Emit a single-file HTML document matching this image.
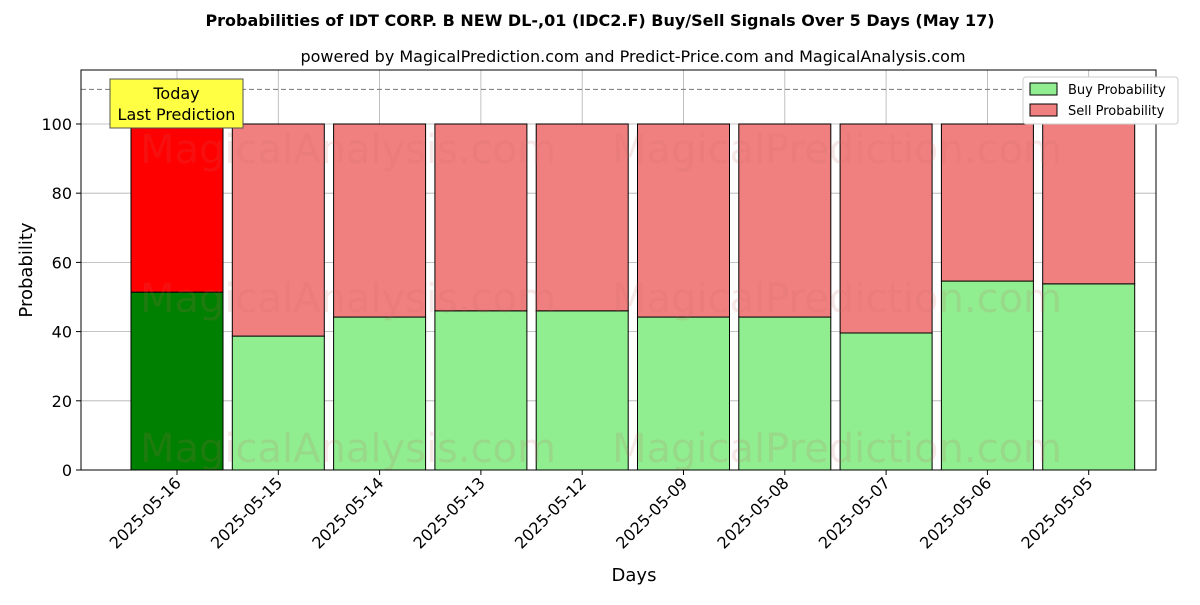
<!DOCTYPE html>
<html><head><meta charset="utf-8"><style>
body{margin:0;background:#fff;font-family:"Liberation Sans","DejaVu Sans",sans-serif;}
svg text{font-family:"DejaVu Sans","Liberation Sans",sans-serif;}
</style></head><body>
<svg id="chart" width="1200" height="600" xmlns="http://www.w3.org/2000/svg">
<rect width="1200" height="600" fill="#fff"/>
<text x="600" y="26" text-anchor="middle" font-size="16" font-weight="bold">Probabilities of IDT CORP. B NEW  DL-,01 (IDC2.F) Buy/Sell Signals Over 5 Days (May 17)</text>
<text x="633" y="62" text-anchor="middle" font-size="16">powered by MagicalPrediction.com and Predict-Price.com and MagicalAnalysis.com</text>
<g id="grid"></g>
<g id="bars"></g>
<g id="wm" font-size="40" fill="rgba(200,100,100,0.15)">
<text x="348" y="163" text-anchor="middle">MagicalAnalysis.com</text>
<text x="837" y="163" text-anchor="middle">MagicalPrediction.com</text>
<text x="348" y="312" text-anchor="middle">MagicalAnalysis.com</text>
<text x="837" y="312" text-anchor="middle">MagicalPrediction.com</text>
<text x="348" y="462" text-anchor="middle">MagicalAnalysis.com</text>
<text x="837" y="462" text-anchor="middle">MagicalPrediction.com</text>
</g>
<line x1="81" x2="1156" y1="89.4" y2="89.4" stroke="#777" stroke-dasharray="5,3"/>
<rect x="81" y="70" width="1075" height="400" fill="none" stroke="#000"/>
<g id="axes"></g>
<g>
<rect x="110" y="79" width="133" height="49" fill="#ffff44" stroke="#555"/>
<text x="176.5" y="99" text-anchor="middle" font-size="16">Today</text>
<text x="176.5" y="120" text-anchor="middle" font-size="16">Last Prediction</text>
</g>
<g>
<rect x="1023" y="77" width="155" height="47" fill="#fff" stroke="#ccc" rx="3"/>
<rect x="1030" y="83" width="27" height="12" fill="#90ee90" stroke="#000"/>
<text x="1068" y="94" font-size="13">Buy Probability</text>
<rect x="1030" y="104" width="27" height="12" fill="#f08080" stroke="#000"/>
<text x="1068" y="115" font-size="13">Sell Probability</text>
</g>
<text x="634" y="581" text-anchor="middle" font-size="18">Days</text>
<text transform="translate(32,270) rotate(-90)" text-anchor="middle" font-size="18">Probability</text>
</svg>
<script>
const categories=["2025-05-16","2025-05-15","2025-05-14","2025-05-13","2025-05-12","2025-05-09","2025-05-08","2025-05-07","2025-05-06","2025-05-05"];
const buyValues=[51.4,38.7,44.2,46.0,46.0,44.2,44.2,39.6,54.6,53.8];
const yTicks=[0,20,40,60,80,100];
const NS="http://www.w3.org/2000/svg";
const y0=470,yTop=70,yMax=115.6;
const yS=v=>y0-v*(y0-yTop)/yMax;
const xC=i=>177+i*101.3;
const bw=92;
const grid=document.getElementById('grid'),bars=document.getElementById('bars'),axes=document.getElementById('axes');
function mk(tag,attrs,parent){const e=document.createElementNS(NS,tag);for(const k in attrs)e.setAttribute(k,attrs[k]);parent.appendChild(e);return e;}
yTicks.forEach(t=>{
 const l=mk('line',{x1:81,x2:1156,y1:yS(t),y2:yS(t),stroke:'#b0b0b0','stroke-width':0.8},grid);
 
 
 mk('line',{x1:76,x2:81,y1:yS(t),y2:yS(t),stroke:'#000'},axes);
 const tx=mk('text',{x:72,y:yS(t)+6,'text-anchor':'end','font-size':16},axes);
 tx.textContent=t;
 
 
});
categories.forEach((c,i)=>{
 const x=xC(i);
 const g=mk('line',{x1:x,x2:x,y1:70,y2:470,stroke:'#b0b0b0','stroke-width':0.8},grid);
 
 
 const b=buyValues[i];
 const today=i===0;
 const rb=mk('rect',{x:x-bw/2,y:yS(b),width:bw,height:y0-yS(b),fill:today?'#008000':'#90ee90',stroke:'#000','stroke-width':1},bars);
 
 
 const rs=mk('rect',{x:x-bw/2,y:yS(100),width:bw,height:yS(b)-yS(100),fill:today?'#ff0000':'#f08080',stroke:'#000','stroke-width':1},bars);
 
 
 mk('line',{x1:x,x2:x,y1:470,y2:475,stroke:'#000'},axes);
 const tx=mk('text',{'text-anchor':'end','font-size':16,transform:`translate(${x+5},${484}) rotate(-45)`},axes);
 tx.textContent=c;
 
 
});
</script>
</body></html>
